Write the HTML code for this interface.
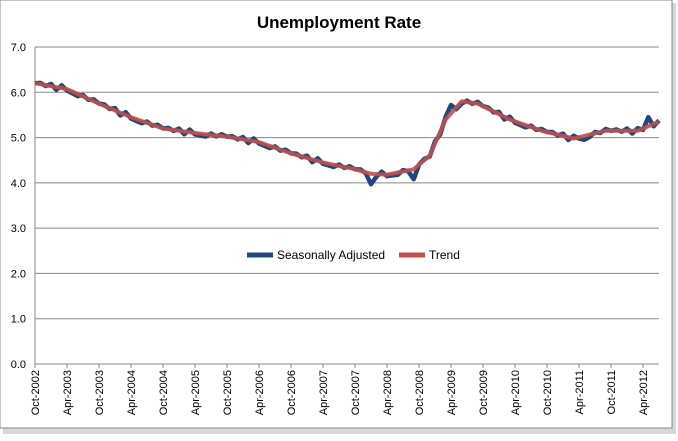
<!DOCTYPE html>
<html><head><style>
body{margin:0;background:#fff;width:678px;height:436px;overflow:hidden;font-family:"Liberation Sans",sans-serif}
</style></head><body>
<svg id="s" width="678" height="436" xmlns="http://www.w3.org/2000/svg">
<rect x="3" y="3" width="673" height="431" fill="#d8d8d8"/>
<rect x="0" y="0" width="672" height="428" fill="#fff" stroke="#888" stroke-width="1"/>
<text x="339" y="28" text-anchor="middle" font-size="17" font-weight="bold" font-family="Liberation Sans, sans-serif">Unemployment Rate</text>
<g id="g"></g>
</svg>
<script>
const g=document.getElementById('g');const NS='http://www.w3.org/2000/svg';
function el(t,a,txt){const e=document.createElementNS(NS,t);for(const k in a)e.setAttribute(k,a[k]);if(txt!==undefined)e.textContent=txt;g.appendChild(e);return e;}
const L=35,R=659,T=47,B=364,U=(B-T)/7;
for(let i=0;i<=7;i++){const y=B-i*U;
 if(i>0)el('line',{x1:L,x2:R,y1:y,y2:y,stroke:'#888','stroke-width':1});
 el('text',{x:26,y:y+4,'text-anchor':'end','font-size':11},i.toFixed(1));}
el('line',{x1:L,x2:L,y1:T,y2:B,stroke:'#888'});
el('line',{x1:L,x2:R,y1:B,y2:B,stroke:'#888'});
const labs=[];for(let y=2002;y<=2012;y++){if(y>2002)labs.push('Apr-'+y);if(y<2012)labs.push('Oct-'+y);}
const sp=32;
labs.forEach((l,i)=>{const x=L+i*sp;el('line',{x1:x,x2:x,y1:B,y2:B+4,stroke:'#888'});
 el('text',{x:0,y:0,transform:`translate(${x+4},${B+6}) rotate(-90)`,'text-anchor':'end','font-size':11},l);});
const K=[[0,6.2],[6,6.07],[12,5.75],[18,5.45],[24,5.2],[30,5.1],[36,5.02],[42,4.9],[48,4.65],[54,4.45],[60,4.3],[63,4.2],[66,4.18],[71,4.3],[74,4.6],[77,5.4],[80,5.8],[83,5.75],[89,5.4],[95,5.15],[101,4.98],[107,5.15],[113,5.15],[117,5.35]];
function tr(m){for(let i=0;i<K.length-1;i++){if(m<=K[i+1][0]){const [a,va]=K[i],[b,vb]=K[i+1];return va+(vb-va)*(m-a)/(b-a);}}return K[K.length-1][1];}
const dx=sp/6;let p1='',p2='';
const noise=[0.0,-0.04,-0.02,0.03,-0.06,0.04,-0.03,0.03,-0.05,0.05,-0.02,0.06];
for(let m=0;m<=117;m++){const x=L+m*dx;let v=tr(m);let s=v+noise[(m*7)%12];
 if(m==63)s=3.97;if(m==71)s=4.08;if(m==78)s=5.72;if(m==115)s=5.45;if(m==103)s=4.95;
 p1+=(m?'L':'M')+x.toFixed(1)+','+(B-s*U).toFixed(1);p2+=(m?'L':'M')+x.toFixed(1)+','+(B-v*U).toFixed(1);}
el('path',{d:p1,fill:'none',stroke:'#1f497d','stroke-width':4.5,'stroke-linejoin':'round'});
el('path',{d:p2,fill:'none',stroke:'#c0504d','stroke-width':4,'stroke-linejoin':'round','stroke-opacity':0.9});
el('line',{x1:247,x2:273,y1:255,y2:255,stroke:'#1f497d','stroke-width':5});
el('text',{x:277,y:259,'font-size':12},'Seasonally Adjusted');
el('line',{x1:399,x2:425,y1:255,y2:255,stroke:'#c0504d','stroke-width':5});
el('text',{x:429,y:259,'font-size':12},'Trend');
</script>
</body></html>
